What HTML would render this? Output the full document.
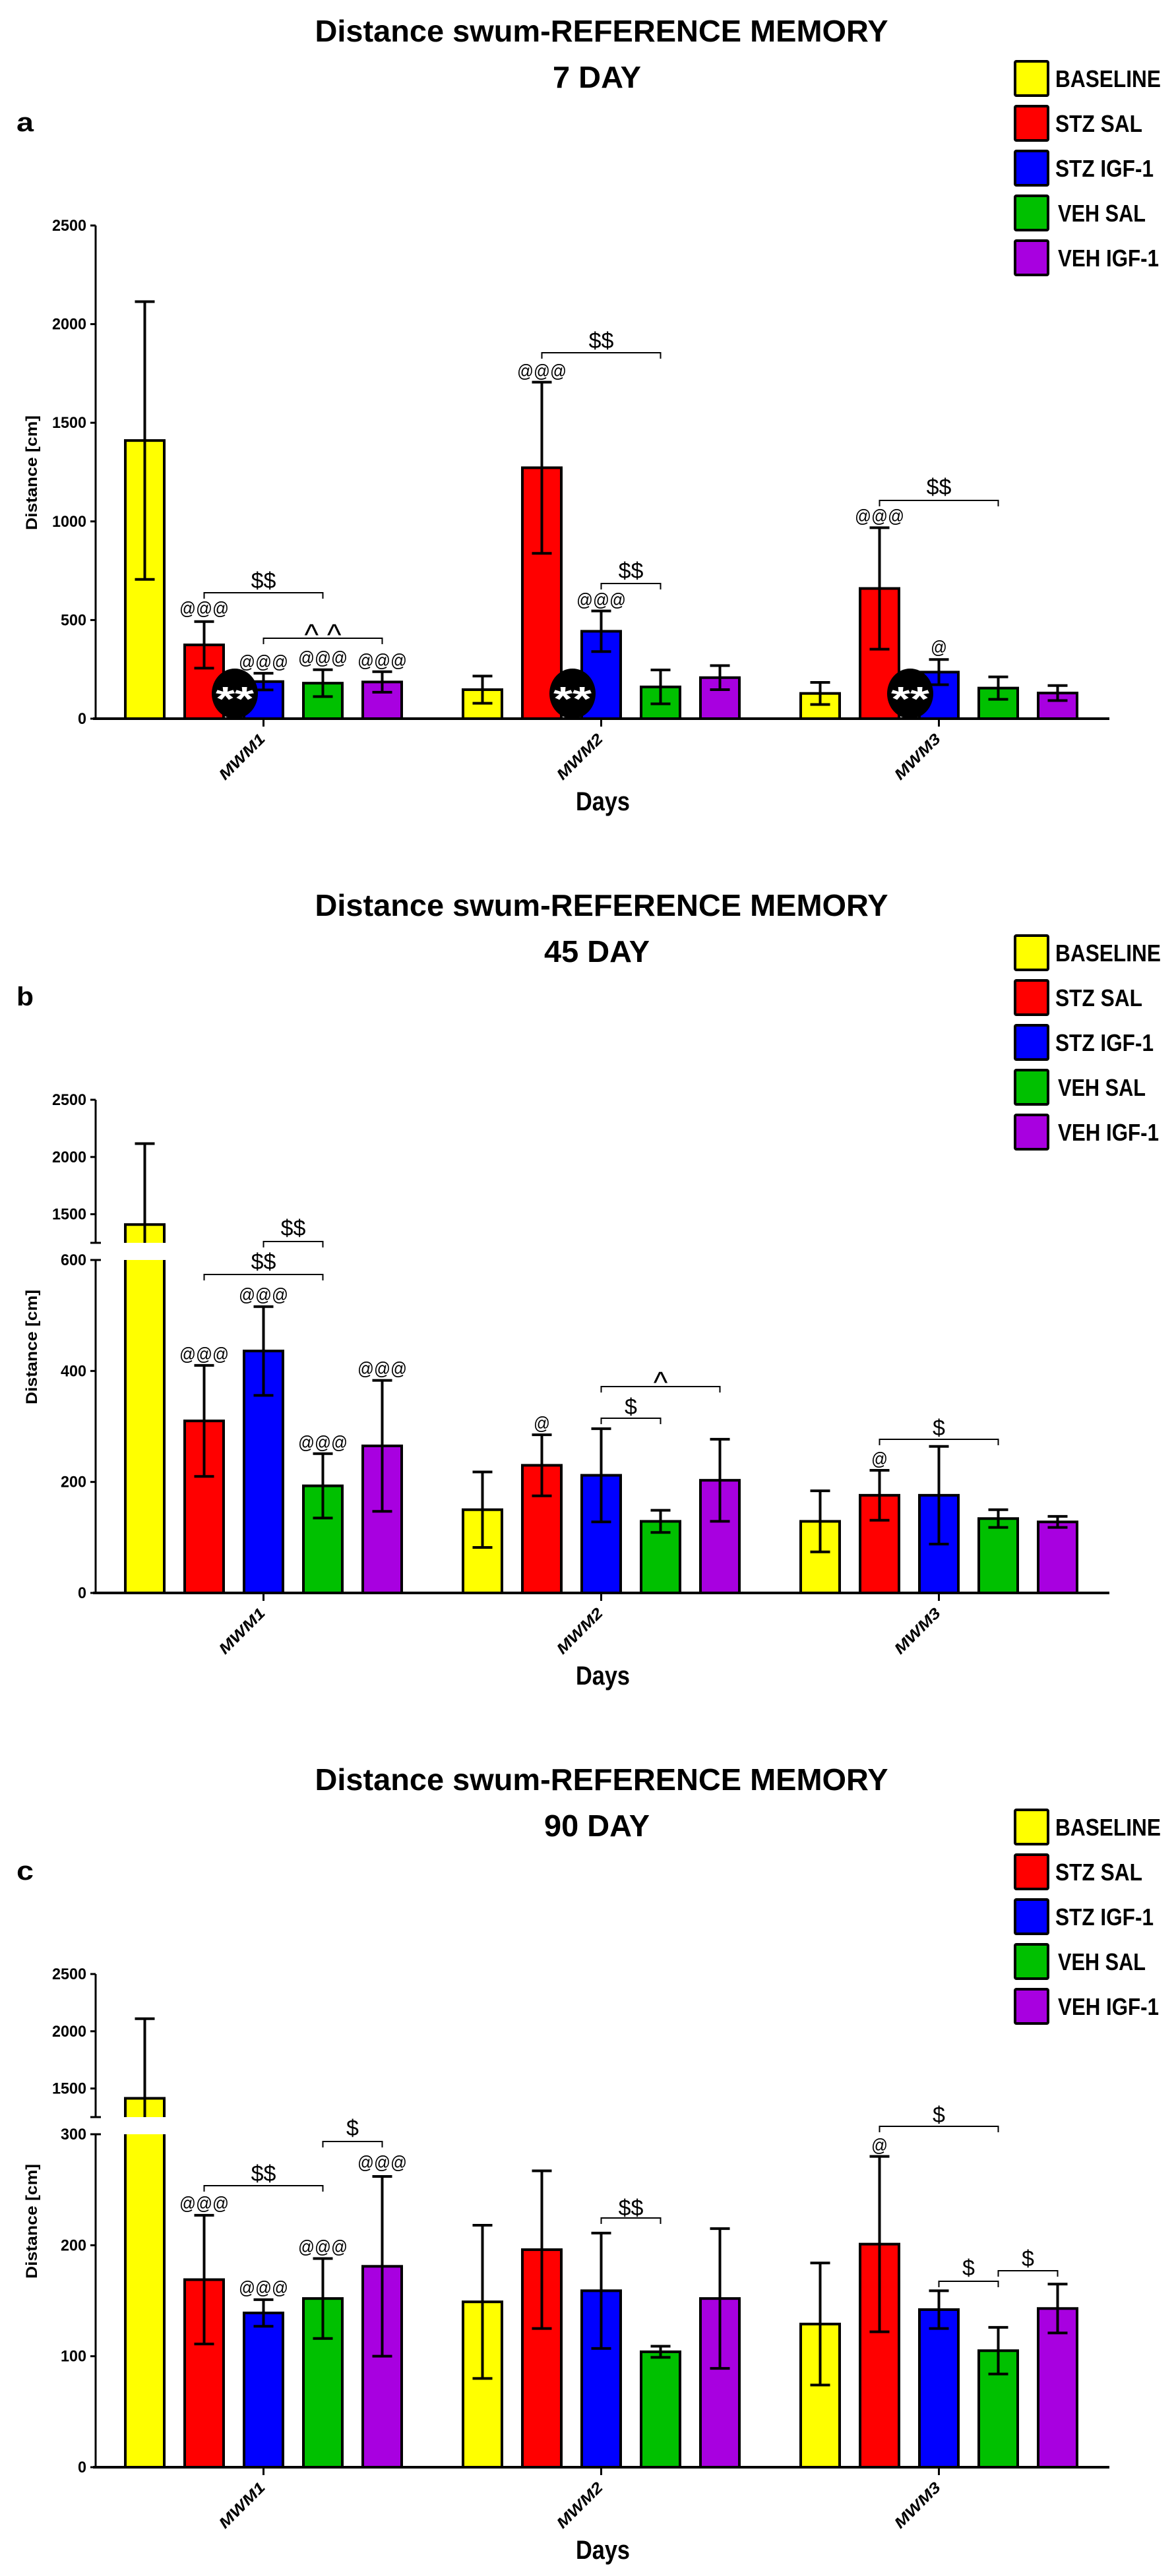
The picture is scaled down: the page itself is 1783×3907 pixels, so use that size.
<!DOCTYPE html>
<html><head><meta charset="utf-8">
<style>
html,body{margin:0;padding:0;background:#fff;}
svg{display:block;font-family:"Liberation Sans",Arial,sans-serif;}
</style></head>
<body>
<svg id="fig" width="1783" height="3907" viewBox="0 0 1783 3907" xmlns="http://www.w3.org/2000/svg"></svg>
<script>
// ---- data ----
const categories = ["MWM1","MWM2","MWM3"];
const seriesNames = ["BASELINE","STZ SAL","STZ IGF-1","VEH SAL","VEH IGF-1"];
const seriesColors = ["#ffff00","#ff0000","#0000ff","#00c000","#a800e0"];
const panelLetters = ["a","b","c"];
const panelDays = ["7 DAY","45 DAY","90 DAY"];
// means [series][category]
const meansA = [[1410,147,128],[374,1272,660],[188,443,236],[180,161,155],[186,208,130]];
const errA   = [[704,69,56],[118,434,308],[42,103,64],[68,86,57],[52,61,38]];
const meansB = [[1410,150,129],[310,230,176],[436,212,176],[193,129,134],[265,203,128]];
const errB   = [[707,68,55],[100,55,45],[80,84,88],[58,20,16],[118,74,10]];
const meansC = [[1414,149,129],[169,196,201],[139,159,142],[152,104,105],[181,152,143]];
const errC   = [[696,69,55],[58,71,79],[12,52,17],[36,5,21],[81,63,22]];
const ticksA = [0,500,1000,1500,2000,2500];
const ticksLowB = [0,200,400,600];
const ticksLowC = [0,100,200,300];
const ticksHigh = [1500,2000,2500];
// annotations: [text, category, series, y(panel px)]
const labelsA = [["@@@",0,1,922],["@@@",0,2,1003],["@@@",0,3,997],["@@@",0,4,1001],["@@@",1,1,562],["@@@",1,2,909],["@@@",2,1,782],["@",2,2,981]];
const labelsB = [["@@@",0,1,727],["@@@",0,2,637],["@@@",0,3,861],["@@@",0,4,749],["@",1,1,832],["@",2,1,886]];
const labelsC = [["@@@",0,1,689],["@@@",0,2,817],["@@@",0,3,755],["@@@",0,4,627],["@",2,1,601]];
// brackets: [text, category, fromSeries, toSeries, lineY, textY]
const bracketsA = [["$$",0,1,3,899,880],["^ ^",0,2,4,968,955],["$$",1,1,3,535,516],["$$",1,2,3,885,865],["$$",2,1,3,759,738]];
const bracketsB = [["$$",0,1,3,607,587],["$$",0,2,3,557,536],["$",1,2,3,825,807],["^",1,2,4,777,763],["$",2,1,3,857,839]];
const bracketsC = [["$$",0,1,3,663,644],["$",0,3,4,596,575],["$$",1,2,3,712,696],["$",2,1,3,573,555],["$",2,2,3,808,787],["$",2,3,4,792,773]];
const circleCats = [0,1,2];

// ---- drawing ----
const NS="http://www.w3.org/2000/svg";
const svg=document.getElementById('fig');
function mk(tag,attrs,parent){const e=document.createElementNS(NS,tag);for(const k in attrs)e.setAttribute(k,attrs[k]);(parent||svg).appendChild(e);return e;}
const AX=145, Y0=1090, YTOP=342, BRK_HI=559, BRK_LO=585;
function xBar(c,s){return 219.5+512*c+90*s;}
function makeScale(lowMax){
  if(!lowMax) return v=>Y0-(v/2500)*(Y0-YTOP);
  return v=>{ if(v<=lowMax) return Y0-(v/lowMax)*(Y0-BRK_LO);
    return YTOP+(2500-v)*((BRK_HI-YTOP)/1250); };
}
const panels=[
 {means:meansA,err:errA,labels:labelsA,brackets:bracketsA,low:null,lowTicks:ticksA,circles:true},
 {means:meansB,err:errB,labels:labelsB,brackets:bracketsB,low:600,lowTicks:ticksLowB,circles:false},
 {means:meansC,err:errC,labels:labelsC,brackets:bracketsC,low:300,lowTicks:ticksLowC,circles:false}
];
panels.forEach((P,pi)=>{
  const g=mk('g',{transform:'translate(0,'+(pi*1326)+')'});
  
  
  const y=makeScale(P.low);
  let t;
  t=mk('text',{x:912,y:63,'text-anchor':'middle','font-size':46,'font-weight':'bold',textLength:869,lengthAdjust:'spacingAndGlyphs'},g);
  t.textContent='Distance swum-REFERENCE MEMORY';
  
  const dw=panelDays[pi].length>5?160:134;
  t=mk('text',{x:905,y:133,'text-anchor':'middle','font-size':46,'font-weight':'bold',textLength:dw,lengthAdjust:'spacingAndGlyphs'},g);
  t.textContent=panelDays[pi];
  
  t=mk('text',{x:25,y:199,'font-size':40,'font-weight':'bold',textLength:26,lengthAdjust:'spacingAndGlyphs'},g);
  t.textContent=panelLetters[pi];
  
  // legend
  seriesNames.forEach((n,s)=>{
    const cy=119+68*s;
    const r=mk('rect',{x:1539,y:cy-26,width:50,height:52,fill:seriesColors[s],stroke:'#000','stroke-width':4,rx:2},g);
    
    const tw=[160,132,149,133,153][s];
    const tt=mk('text',{x:s>=3?1604:1600,y:cy+13,'font-size':36,'font-weight':'bold',textLength:tw,lengthAdjust:'spacingAndGlyphs'},g);
    tt.textContent=n;
    
  });
  // bars
  P.means.forEach((row,s)=>{row.forEach((m,c)=>{
    const cx=xBar(c,s), e=P.err[s][c], up=m+e, lo=m-e;
    if(!P.low || m<=P.low){
      const r=mk('rect',{x:cx-29.5,y:y(m),width:59,height:Y0-y(m),fill:seriesColors[s],stroke:'#000','stroke-width':4},g);
      
    } else {
      const r1=mk('rect',{x:cx-29.5,y:BRK_LO,width:59,height:Y0-BRK_LO,fill:seriesColors[s]},g);
      
      const r2=mk('rect',{x:cx-29.5,y:y(m),width:59,height:BRK_HI-y(m),fill:seriesColors[s]},g);
      
      const p=mk('path',{d:`M${cx-29.5},${Y0} V${BRK_LO} M${cx+29.5},${BRK_LO} V${Y0} M${cx-29.5},${BRK_HI} V${y(m)} H${cx+29.5} V${BRK_HI}`,fill:'none',stroke:'#000','stroke-width':4},g);
      
    }
    // error bar
    let d='';
    if(!P.low){ d=`M${cx},${y(lo)} V${y(up)} M${cx-15},${y(up)} H${cx+15} M${cx-15},${y(lo)} H${cx+15}`; }
    else if(m>P.low){ d=`M${cx},${BRK_HI} V${y(up)} M${cx-15},${y(up)} H${cx+15}`; }
    else { d=`M${cx},${y(lo)} V${y(up)} M${cx-15},${y(up)} H${cx+15} M${cx-15},${y(lo)} H${cx+15}`; }
    const eb=mk('path',{d:d,stroke:'#000','stroke-width':4,fill:'none'},g);
    
  });});
  // axes
  let ad = P.low ? `M${AX},${YTOP} V${BRK_HI} M${AX-8},${BRK_HI} H${AX+8} M${AX},${BRK_LO} V${Y0}` : `M${AX},${YTOP} V${Y0}`;
  const ya=mk('path',{d:ad,stroke:'#000','stroke-width':3,fill:'none'},g);
  
  const xa=mk('path',{d:`M${AX-4},${Y0} H1682`,stroke:'#000','stroke-width':4},g);
  
  const tickSets = P.low ? [[P.lowTicks,v=>v],[ticksHigh,v=>v]] : [[P.lowTicks,v=>v]];
  tickSets.forEach(ts=>ts[0].forEach(v=>{
    const ty=y(v);
    const tk=mk('line',{x1:AX-8,x2:AX+(P.low&&v===P.low?8:0),y1:ty,y2:ty,stroke:'#000','stroke-width':3},g);
    
    const tl=mk('text',{x:131,y:ty+8,'text-anchor':'end','font-size':24,'font-weight':'bold',textLength:String(v).length*13,lengthAdjust:'spacingAndGlyphs'},g);
    tl.textContent=v;
    
  }));
  categories.forEach((cat,c)=>{
    const cx=xBar(c,2);
    const tk=mk('line',{x1:cx,x2:cx,y1:Y0,y2:Y0+12,stroke:'#000','stroke-width':3},g);
    
    const tl=mk('text',{x:cx+4,y:Y0+32,'text-anchor':'end','font-size':23,'font-weight':'bold','font-style':'italic',transform:`rotate(-45 ${cx+4} ${Y0+32})`,textLength:88,lengthAdjust:'spacingAndGlyphs'},g);
    tl.textContent=cat;
    
  });
  t=mk('text',{x:914,y:1229,'text-anchor':'middle','font-size':40,'font-weight':'bold',textLength:82,lengthAdjust:'spacingAndGlyphs'},g);
  t.textContent='Days';
  
  t=mk('text',{x:0,y:0,'text-anchor':'middle','font-size':24,'font-weight':'bold',transform:'translate(56,717) rotate(-90)',textLength:174,lengthAdjust:'spacingAndGlyphs'},g);
  t.textContent='Distance [cm]';
  
  // circles
  if(P.circles){ circleCats.forEach(c=>{
    const cx=356+512*c;
    const ci=mk('ellipse',{cx:cx,cy:1052,rx:35,ry:38,fill:'#000'},g);
    
    const ct=mk('text',{x:cx,y:1078,'text-anchor':'middle','font-size':52,'font-weight':'bold',fill:'#fff',textLength:58,lengthAdjust:'spacingAndGlyphs'},g);
    ct.textContent='**';
    
  });}
  // labels
  P.labels.forEach(L=>{
    const lt=mk('text',{x:xBar(L[1],L[2]),y:L[3]+10,'text-anchor':'middle','font-size':28,textLength:L[0].length*25,lengthAdjust:'spacingAndGlyphs'},g);
    lt.textContent=L[0];
    
  });
  P.brackets.forEach(B=>{
    const x1=xBar(B[1],B[2]), x2=xBar(B[1],B[3]);
    const bp=mk('path',{d:`M${x1},${B[4]+9} V${B[4]} H${x2} V${B[4]+9}`,stroke:'#000','stroke-width':2,fill:'none'},g);
    
    const caret=B[0].indexOf('^')>=0;
    const bt=mk('text',{x:(x1+x2)/2,y:caret?B[5]+24:B[5]+12,'text-anchor':'middle','font-size':caret?46:34},g);
    bt.textContent=B[0];
    
  });
});
</script>
</body></html>
